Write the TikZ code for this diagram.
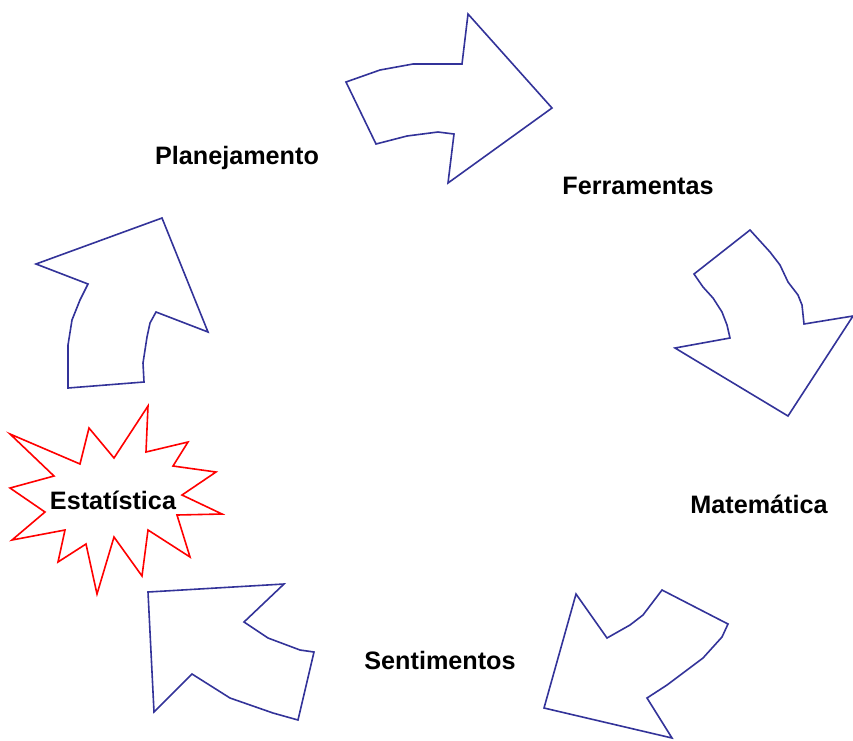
\documentclass[tikz,border=0pt]{standalone}
\usepackage{fontspec}
\setmainfont{Liberation Sans}
\definecolor{arrblue}{RGB}{51,51,153}
\begin{document}
\begin{tikzpicture}[x=1pt,y=-1pt,
  arrowshape/.style={draw=arrblue,line width=1.6pt,line join=miter},
  burst/.style={draw=red,line width=1.6pt,line join=miter},
  lbl/.style={font=\fontsize{25.2}{30}\selectfont\bfseries,inner sep=0pt}]
\useasboundingbox (0,0) rectangle (853,740);
% top arrow
\draw[arrowshape] (346,82) -- (380,70) -- (413,64) -- (462,64) -- (468,14) -- (552,108) -- (448,183) -- (454,134) -- (438,132) -- (407,136) -- (376,144) -- cycle;
% right arrow
\draw[arrowshape] (750,230) -- (694,274) -- (703,287) -- (713,298) -- (722,312) -- (727,325) -- (730,338) -- (675,348) -- (788,416) -- (853,316) -- (804,324) -- (802,305) -- (798,295) -- (788,282) -- (780,265) -- (770,252) -- cycle;
% bottom right arrow
\draw[arrowshape] (576,594) -- (607,638) -- (630,625) -- (643,615) -- (662,590) -- (728,624) -- (722,637) -- (703,658) -- (667,685) -- (647,698) -- (672,738) -- (544,708) -- cycle;
% bottom left arrow
\draw[arrowshape] (148,592) -- (284,584) -- (244,622) -- (268,638) -- (300,650) -- (314,652) -- (298,720) -- (273,713) -- (230,698) -- (192,674) -- (154,712) -- cycle;
% left arrow
\draw[arrowshape] (162,218) -- (208,332) -- (156,312) -- (150,323) -- (147,337) -- (143,363) -- (144,382) -- (68,388) -- (68,345) -- (72,320) -- (80,300) -- (88,284) -- (36,264) -- cycle;
% star
\draw[burst] (148,406) -- (146,452) -- (188,442) -- (173,466) -- (216,472) -- (182,495) -- (222,514) -- (177,515) -- (190,557) -- (148,530) -- (142,576) -- (114,537) -- (97,594) -- (86,544) -- (58,562) -- (65,530) -- (12,540) -- (45,512) -- (10,488) -- (54,476) -- (10,434) -- (80,464) -- (89,428) -- (114,458) -- cycle;
\node[lbl] (plan) at (237,158) {Planejamento};
\node[lbl] (ferr) at (638,186) {Ferramentas};
\node[lbl] (mate) at (759,504) {Matemática};
\node[lbl] (sent) at (440,660) {Sentimentos};
\node[lbl] (esta) at (113,500) {Estatística};
\end{tikzpicture}
\end{document}
